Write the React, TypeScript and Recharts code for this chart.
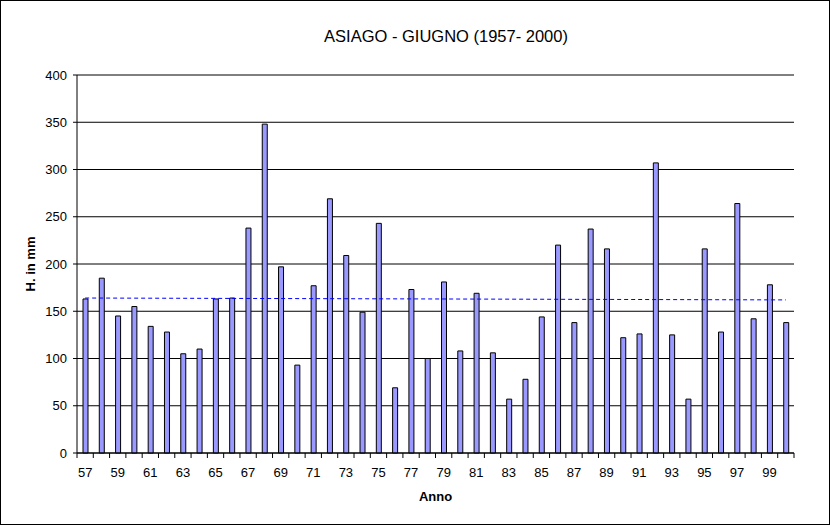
import React from 'react';
import { ComposedChart, Bar, Line, XAxis, YAxis, CartesianGrid, Label } from 'recharts';

const years = ['57','58','59','60','61','62','63','64','65','66','67','68','69','70','71','72','73','74','75','76','77','78','79','80','81','82','83','84','85','86','87','88','89','90','91','92','93','94','95','96','97','98','99','00'];
const rainfall = [163,185,145,155,134,128,105,110,163,164,238,348,197,93,177,269,209,149,243,69,173,100,181,108,169,106,57,78,144,220,138,237,216,122,126,307,125,57,216,128,264,142,178,138];
const trendStart = 164;
const trendEnd = 162;
const yTicks = [0,50,100,150,200,250,300,350,400];

const data = years.map((y, i) => ({
  year: y,
  value: rainfall[i],
  trend: i === 0 ? trendStart : i === years.length - 1 ? trendEnd : null,
}));

const W = 830, H = 525;
const MARGIN = { top: 75, right: 36, bottom: 42, left: 40 };
const YW = 37;
const XH = 30;
const PLOT_LEFT = MARGIN.left + YW;
const PLOT_RIGHT = W - MARGIN.right;
const PLOT_BOTTOM = H - MARGIN.bottom - XH;
const BAND = (PLOT_RIGHT - PLOT_LEFT) / years.length;
const FONT = '"Liberation Sans", Arial, sans-serif';

const XTick = (props: any) => {
  const { x, index } = props;
  const bx = x - BAND / 2;
  const last = index === years.length - 1;
  return (
    <g>
      <line x1={bx} y1={PLOT_BOTTOM} x2={bx} y2={PLOT_BOTTOM + 5} stroke="#000" />
      {last && <line x1={bx + BAND} y1={PLOT_BOTTOM} x2={bx + BAND} y2={PLOT_BOTTOM + 5} stroke="#000" />}
      {index % 2 === 0 && (
        <text x={x} y={PLOT_BOTTOM + 24} textAnchor="middle" fontSize={13} fontFamily={FONT} fill="#000">
          {years[index]}
        </text>
      )}
    </g>
  );
};

export default function App() {
  return (
    <div style={{ position: 'absolute', left: 0, top: 0, width: W, height: H, background: '#fff' }}>
      <ComposedChart width={W} height={H} data={data} margin={MARGIN} barCategoryGap={0}>
        <text x={446} y={42} textAnchor="middle" fontSize={16.5} fontFamily={FONT} fill="#000">
          ASIAGO - GIUGNO (1957- 2000)
        </text>
        <CartesianGrid vertical={false} stroke="#000" strokeWidth={1} />
        <XAxis
          dataKey="year"
          height={XH}
          interval={0}
          tickLine={false}
          axisLine={{ stroke: '#000' }}
          tick={<XTick />}
        >
          <Label value="Anno" position="insideBottom" offset={-18} style={{ fontFamily: FONT, fontSize: 13, fontWeight: 'bold', fill: '#000' }} />
        </XAxis>
        <YAxis
          width={YW}
          domain={[0, 400]}
          ticks={yTicks}
          interval={0}
          tickSize={4}
          tickMargin={6}
          axisLine={{ stroke: '#000' }}
          tickLine={{ stroke: '#000' }}
          tick={{ fontFamily: FONT, fontSize: 13, fill: '#000' }}
        >
          <Label value="H. in mm" angle={-90} position="center" dx={-28} style={{ fontFamily: FONT, fontSize: 13, fontWeight: 'bold', fill: '#000', textAnchor: 'middle' }} />
        </YAxis>
        <YAxis yAxisId="r" orientation="right" width={0} domain={[0, 400]} tick={false} tickLine={false} axisLine={{ stroke: '#000' }} />
        <Bar dataKey="value" fill="#9999FF" stroke="#000" strokeWidth={1} barSize={5} isAnimationActive={false} />
        <Line dataKey="trend" stroke="#0000FF" strokeWidth={1} strokeDasharray="4 3" dot={false} connectNulls isAnimationActive={false} />
      </ComposedChart>
      <div style={{ position: 'absolute', left: 0, top: 0, width: W, height: H, border: '1px solid #000', boxSizing: 'border-box', pointerEvents: 'none' }} />
    </div>
  );
}
